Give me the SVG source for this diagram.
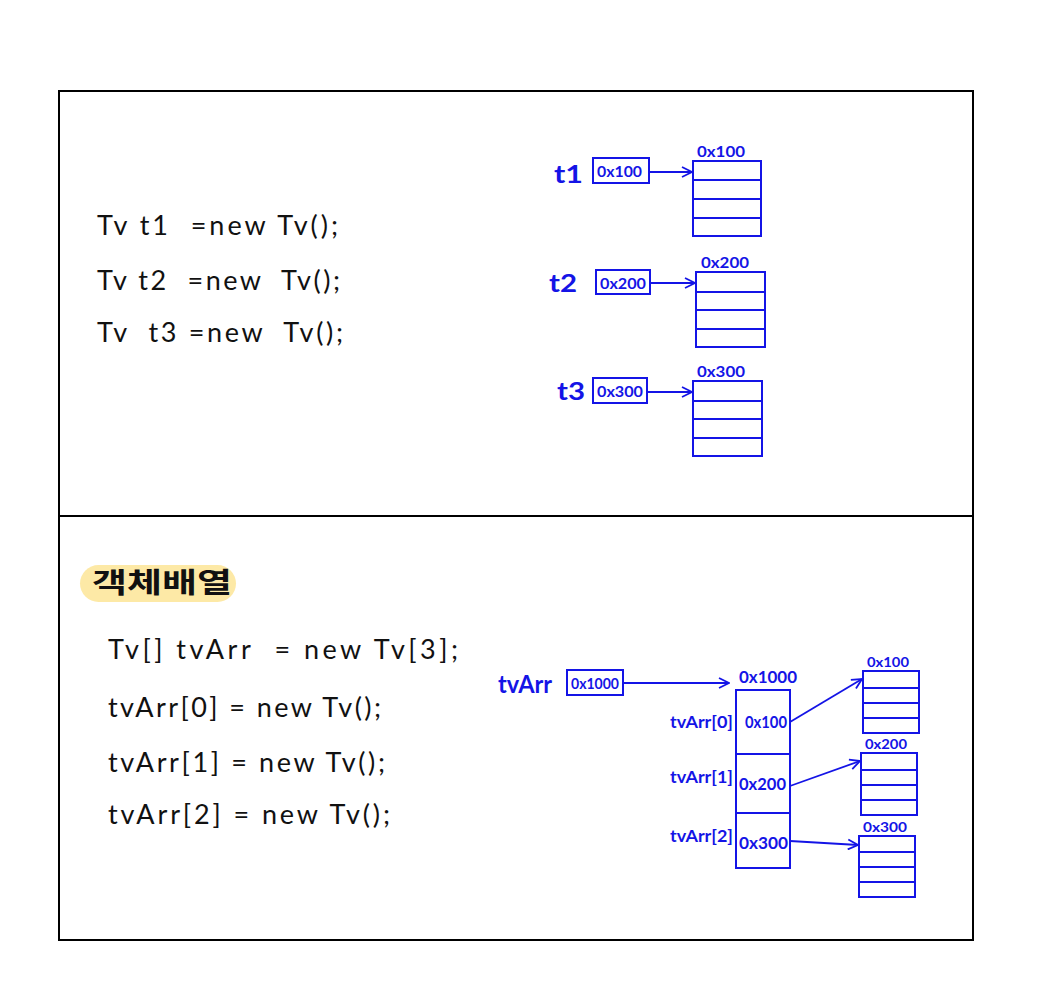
<svg xmlns="http://www.w3.org/2000/svg" width="1043" height="999" viewBox="0 0 1043 999">
<style>
text{white-space:pre}
.frame{fill:none;stroke:#000;stroke-width:2}
.code{font-family:"Lato","Noto Sans","Noto Sans CJK KR",sans-serif;font-size:27px;fill:#111}
.b{fill:none;stroke:#1414e6;stroke-width:2}
.bt{font-family:"Lato","Noto Sans",sans-serif;font-weight:bold;fill:#1414e6}
.lbl{font-size:25px}
.s{font-size:16px}
.ln{stroke:#1414e6;stroke-width:1.8;fill:none}
</style>
<defs>
<marker id="ah" viewBox="0 0 12 12" refX="11" refY="6" markerWidth="12" markerHeight="12" markerUnits="userSpaceOnUse" orient="auto">
<path d="M1,1 L11,6 L1,11" fill="none" stroke="#1414e6" stroke-width="1.8"/>
</marker>
</defs>
<rect width="1043" height="999" fill="#fff"/>
<rect class="frame" x="59" y="91" width="914" height="849"/>
<line class="frame" x1="59" y1="516" x2="973" y2="516"/>

<g id="code-top">
<text class="code" x="97" y="235" textLength="241" lengthAdjust="spacing">Tv t1  =new Tv();</text>
<text class="code" x="97" y="290" textLength="243" lengthAdjust="spacing">Tv t2  =new  Tv();</text>
<text class="code" x="97" y="342" textLength="246" lengthAdjust="spacing">Tv  t3 =new  Tv();</text>
</g>

<g id="t1">
<text class="bt lbl" x="554" y="183" textLength="29" lengthAdjust="spacingAndGlyphs">t1</text>
<rect class="b" x="593" y="158" width="56" height="25"/>
<text class="bt s" x="597" y="177" textLength="45" lengthAdjust="spacingAndGlyphs">0x100</text>
</g>
<g id="obj1">
<text class="bt s" x="697" y="157" textLength="48" lengthAdjust="spacingAndGlyphs">0x100</text>
<rect class="b" x="693" y="161" width="68" height="75"/>
<path class="ln" d="M693,180H761M693,199H761M693,218H761"/>
</g>

<g id="t2">
<text class="bt lbl" x="549" y="292" textLength="28" lengthAdjust="spacingAndGlyphs">t2</text>
<rect class="b" x="596" y="270" width="54" height="24"/>
<text class="bt s" x="600" y="289" textLength="46" lengthAdjust="spacingAndGlyphs">0x200</text>
</g>
<g id="obj2">
<text class="bt s" x="701" y="268" textLength="48" lengthAdjust="spacingAndGlyphs">0x200</text>
<rect class="b" x="696" y="272" width="69" height="75"/>
<path class="ln" d="M696,292H765M696,310H765M696,329H765"/>
</g>

<g id="t3">
<text class="bt lbl" x="557" y="400" textLength="28" lengthAdjust="spacingAndGlyphs">t3</text>
<rect class="b" x="593" y="378" width="54" height="25"/>
<text class="bt s" x="597" y="397" textLength="46" lengthAdjust="spacingAndGlyphs">0x300</text>
</g>
<g id="obj3">
<text class="bt s" x="697" y="377" textLength="48" lengthAdjust="spacingAndGlyphs">0x300</text>
<rect class="b" x="693" y="381" width="69" height="75"/>
<path class="ln" d="M693,401H762M693,419H762M693,438H762"/>
</g>

<g id="title">
<rect x="80" y="565" width="156" height="37" rx="18.5" fill="#fde9a6"/>
<text class="code" x="92" y="593" style="font-size:28px;font-weight:bold" textLength="140" lengthAdjust="spacingAndGlyphs">객체배열</text>
</g>

<g id="code-bottom">
<text class="code" x="108" y="659" textLength="350" lengthAdjust="spacing">Tv[] tvArr  = new Tv[3];</text>
<text class="code" x="108" y="717" textLength="273" lengthAdjust="spacing">tvArr[0] = new Tv();</text>
<text class="code" x="108" y="772" textLength="277" lengthAdjust="spacing">tvArr[1] = new Tv();</text>
<text class="code" x="108" y="824" textLength="282" lengthAdjust="spacing">tvArr[2] = new Tv();</text>
</g>

<g id="tvArr">
<text class="bt" x="498" y="693" style="font-size:24px" textLength="54" lengthAdjust="spacingAndGlyphs">tvArr</text>
<rect class="b" x="567" y="670" width="56" height="25"/>
<text class="bt" x="571" y="689" style="font-size:15px" textLength="48" lengthAdjust="spacingAndGlyphs">0x1000</text>
</g>

<g id="array">
<text class="bt" x="739" y="683" style="font-size:17px" textLength="58" lengthAdjust="spacingAndGlyphs">0x1000</text>
<rect class="b" x="736" y="690" width="54" height="178"/>
<path class="ln" d="M736,754H790M736,813H790"/>
<text class="bt" x="745" y="728" style="font-size:17px" textLength="42" lengthAdjust="spacingAndGlyphs">0x100</text>
<text class="bt" x="739" y="790" style="font-size:17px" textLength="47" lengthAdjust="spacingAndGlyphs">0x200</text>
<text class="bt" x="739" y="849" style="font-size:17px" textLength="49" lengthAdjust="spacingAndGlyphs">0x300</text>
<text class="bt" x="670" y="728" style="font-size:17px" textLength="63" lengthAdjust="spacingAndGlyphs">tvArr[0]</text>
<text class="bt" x="670" y="783" style="font-size:17px" textLength="63" lengthAdjust="spacingAndGlyphs">tvArr[1]</text>
<text class="bt" x="670" y="842" style="font-size:17px" textLength="63" lengthAdjust="spacingAndGlyphs">tvArr[2]</text>
</g>

<g id="aobj1">
<text class="bt" x="867" y="667" style="font-size:14px" textLength="42" lengthAdjust="spacingAndGlyphs">0x100</text>
<rect class="b" x="863" y="671" width="56" height="62"/>
<path class="ln" d="M863,688H919M863,703H919M863,718H919"/>
</g>
<g id="aobj2">
<text class="bt" x="865" y="749" style="font-size:14px" textLength="42" lengthAdjust="spacingAndGlyphs">0x200</text>
<rect class="b" x="861" y="753" width="56" height="62"/>
<path class="ln" d="M861,770H917M861,785H917M861,800H917"/>
</g>
<g id="aobj3">
<text class="bt" x="863" y="832" style="font-size:14px" textLength="44" lengthAdjust="spacingAndGlyphs">0x300</text>
<rect class="b" x="859" y="836" width="56" height="61"/>
<path class="ln" d="M859,852H915M859,867H915M859,882H915"/>
</g>

<g id="connectors">
<line class="ln" x1="649" y1="172" x2="692" y2="172" marker-end="url(#ah)"/>
<line class="ln" x1="650" y1="283" x2="695" y2="283" marker-end="url(#ah)"/>
<line class="ln" x1="647" y1="392" x2="692" y2="392" marker-end="url(#ah)"/>
<line class="ln" x1="623" y1="683" x2="729" y2="683" marker-end="url(#ah)"/>
<line class="ln" x1="790" y1="722" x2="862" y2="679" marker-end="url(#ah)"/>
<line class="ln" x1="790" y1="786" x2="860" y2="761" marker-end="url(#ah)"/>
<line class="ln" x1="790" y1="841" x2="858" y2="845" marker-end="url(#ah)"/>
</g>
</svg>
